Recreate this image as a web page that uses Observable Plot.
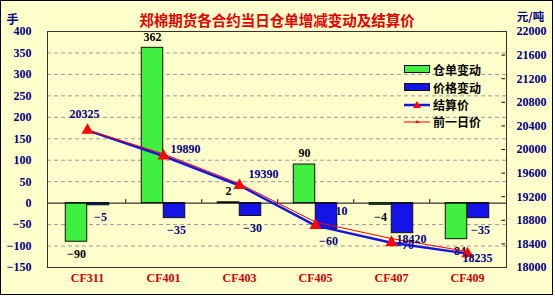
<!DOCTYPE html>
<html>
<head>
<meta charset="utf-8">
<script src="https://cdn.jsdelivr.net/npm/d3@7"></script>
<script src="https://cdn.jsdelivr.net/npm/@observablehq/plot@0.6"></script>
<style>
  html, body { margin: 0; padding: 0; background: #fff; }
  #wrap { position: relative; width: 555px; height: 297px; overflow: hidden; }
  #bg { position: absolute; left: 0; top: 0; width: 553px; height: 295px; box-sizing: border-box;
        border: 1px solid #000; background: #FFFFCC; }
  #chart { position: absolute; left: 0; top: 0; }
  #legend { position: absolute; left: 404px; top: 60px; font-family: "Noto Sans CJK SC", sans-serif;
            font-weight: bold; font-size: 12px; color: #000; }
  .item { position: absolute; left: 0; height: 18px; width: 100px; display: flex; align-items: center; white-space: nowrap; }
  .item svg { margin-right: 3px; }
</style>
</head>
<body>
<div id="wrap">
  <div id="bg"></div>
  <div id="chart"></div>
  <div id="legend"></div>
</div>
<script>
// ---- data ----
const categories = ["CF311", "CF401", "CF403", "CF405", "CF407", "CF409"];
const receiptChange = [-90, 362, 2, 90, -4, -84];      // 仓单变动 (手)
const priceChange = [-5, -35, -30, -60, -70, -35];      // 价格变动
const settlePrice = [20325, 19890, 19390, 18710, 18420, 18235]; // 结算价
const prevPrice = [20330, 19925, 19420, 18770, 18490, 18270];   // 前一日价
const leftTicks = [400, 350, 300, 250, 200, 150, 100, 50, 0, -50, -100, -150];
const rightTicks = [22000, 21600, 21200, 20800, 20400, 20000, 19600, 19200, 18800, 18400, 18000];
const seriesNames = ["仓单变动", "价格变动", "结算价", "前一日价"];
const titleText = "郑棉期货各合约当日仓单增减变动及结算价";
const leftUnit = "手";
const rightUnit = "元/吨";

// ---- helpers ----
const yMin = -150, yMax = 400, pMin = 18000, pMax = 22000;
const toLeft = p => yMin + (p - pMin) * (yMax - yMin) / (pMax - pMin);
const fmt = d3.format("d");
const rows = categories.map((c, i) => ({
  cat: c, receipt: receiptChange[i], price: priceChange[i], settle: settlePrice[i], prev: prevPrice[i], i
}));

const W = 555, H = 297, mL = 47, mR = 49, mT = 31, mB = 30;
const bw = (W - mL - mR) / categories.length;
const barW = 22;
const num = {fontFamily: "Liberation Serif", fontWeight: "bold", fontSize: 12};
const navy = "#000080";
const green = "#40F040", blue = "#1414E8", lineBlue = "#1515E0", red = "#FF0000";

// per-point placement of settlement labels (layout, not data)
const priceLabelPlace = [
  {dx: -3, dy: -16, anchor: "middle"},
  {dx: 7, dy: -7, anchor: "start"},
  {dx: 9, dy: -11, anchor: "start"},
  {dx: 2, dy: -14, anchor: "start"},
  {dx: 5, dy: -4, anchor: "start"},
  {dx: -5, dy: 5, anchor: "start"}
];
const priceLabel = (idx) => Plot.text(rows.filter(d => d.i === idx), {
  x: "cat", y: d => toLeft(d.settle), text: d => String(d.settle),
  dx: priceLabelPlace[idx].dx, dy: priceLabelPlace[idx].dy, textAnchor: priceLabelPlace[idx].anchor,
  fill: navy, ...num
});

const chart = Plot.plot({
  width: W, height: H,
  marginLeft: mL, marginRight: mR, marginTop: mT, marginBottom: mB,
  style: {background: "transparent", overflow: "visible"},
  x: {type: "band", domain: categories, padding: 0, axis: null},
  y: {domain: [yMin, yMax], axis: null},
  marks: [
    // grid
    Plot.ruleY(leftTicks.filter(t => t !== 0 && t !== yMax && t !== yMin), {stroke: "#9a9a9a", strokeDasharray: "4,3", strokeWidth: 1}),
    // hidden-behind-bar label
    priceLabel(3),
    // bars
    Plot.barY(rows, {x: "cat", y: "receipt", fill: green, stroke: "#111", strokeWidth: 1,
      insetLeft: bw / 2 - barW, insetRight: bw / 2}),
    Plot.barY(rows, {x: "cat", y: "price", fill: blue, stroke: "#111", strokeWidth: 1,
      insetLeft: bw / 2, insetRight: bw / 2 - barW}),
    // zero line and category ticks
    Plot.ruleY([0], {stroke: "#000", strokeWidth: 1}),
    Plot.ruleX(categories.slice(0, -1), {x: d => d, dx: bw / 2, y1: 0, y2: 8, stroke: "#000"}),
    // right axis inward ticks
    Plot.tickY(rightTicks.slice(1, -1), {y: toLeft, x: () => categories[categories.length - 1], insetLeft: bw - 4, stroke: "#000"}),
    // bar labels
    Plot.text(rows.filter(d => d.receipt >= 0), {x: "cat", y: "receipt", text: d => fmt(d.receipt), dx: -barW / 2, dy: -11, fill: "#000", ...num}),
    Plot.text(rows.filter(d => d.receipt < 0), {x: "cat", y: "receipt", text: d => fmt(d.receipt), dx: -barW / 2, dy: 12, fill: "#000", ...num}),
    Plot.text(rows, {x: "cat", y: "price", text: d => fmt(d.price), dx: barW / 2 + 2, dy: 12, fill: navy, ...num}),
    // lines
    Plot.line(rows, {x: "cat", y: d => toLeft(d.settle), stroke: lineBlue, strokeWidth: 2.5}),
    Plot.line(rows, {x: "cat", y: d => toLeft(d.prev), stroke: red, strokeWidth: 1}),
    Plot.dot(rows, {x: "cat", y: d => toLeft(d.prev), symbol: "triangle", r: 2, fill: red}),
    Plot.dot(rows, {x: "cat", y: d => toLeft(d.settle), symbol: "triangle", r: 4.5, fill: red}),
    // settlement labels
    priceLabel(0), priceLabel(1), priceLabel(2), priceLabel(4), priceLabel(5),
    // frame
    Plot.frame({stroke: "#333", strokeWidth: 1}),
    // axes as text
    Plot.text(leftTicks, {y: d => d, text: d => fmt(d), frameAnchor: "left", dx: -16, textAnchor: "end", fill: navy, ...num}),
    Plot.text(rightTicks, {y: toLeft, text: d => String(d), frameAnchor: "right", dx: 10, textAnchor: "start", fill: navy, ...num}),
    Plot.text(categories, {x: d => d, text: d => d, frameAnchor: "bottom", dy: 14, fill: "#CC0000", ...num}),
    // titles
    Plot.text([titleText], {frameAnchor: "top", dy: -16, fill: "#E00000", fontFamily: "Noto Sans CJK SC", fontWeight: "bold", fontSize: 14.5}),
    Plot.text([leftUnit], {frameAnchor: "top-left", dx: -35, dy: -16, textAnchor: "middle", fill: navy, fontFamily: "Noto Sans CJK SC", fontWeight: "bold", fontSize: 12}),
    Plot.text([rightUnit], {frameAnchor: "top-right", dx: 24, dy: -18.5, textAnchor: "middle", fill: navy, fontFamily: "Noto Sans CJK SC", fontWeight: "bold", fontSize: 11.5})
  ]
});
document.getElementById("chart").appendChild(chart);

// legend
const legend = document.getElementById("legend");
const swatches = [
  `<svg width="26" height="10"><rect x="0.5" y="1.5" width="25" height="7" fill="${green}" stroke="#111"/></svg>`,
  `<svg width="26" height="10"><rect x="0.5" y="1.5" width="25" height="7" fill="${blue}" stroke="#111"/></svg>`,
  `<svg width="26" height="10"><line x1="0" x2="26" y1="5" y2="5" stroke="${lineBlue}" stroke-width="2.5"/><path d="M13,1 L17,8 L9,8 Z" fill="${red}"/></svg>`,
  `<svg width="26" height="10"><line x1="0" x2="26" y1="5" y2="5" stroke="${red}" stroke-width="1"/><path d="M13,3 L15,6 L11,6 Z" fill="${red}"/></svg>`
];
const tops = [0, 18, 35.5, 52.5];
seriesNames.forEach((name, i) => {
  const div = document.createElement("div");
  div.className = "item";
  div.style.top = tops[i] + "px";
  div.innerHTML = swatches[i] + `<span>${name}</span>`;
  legend.appendChild(div);
});
</script>
</body>
</html>
